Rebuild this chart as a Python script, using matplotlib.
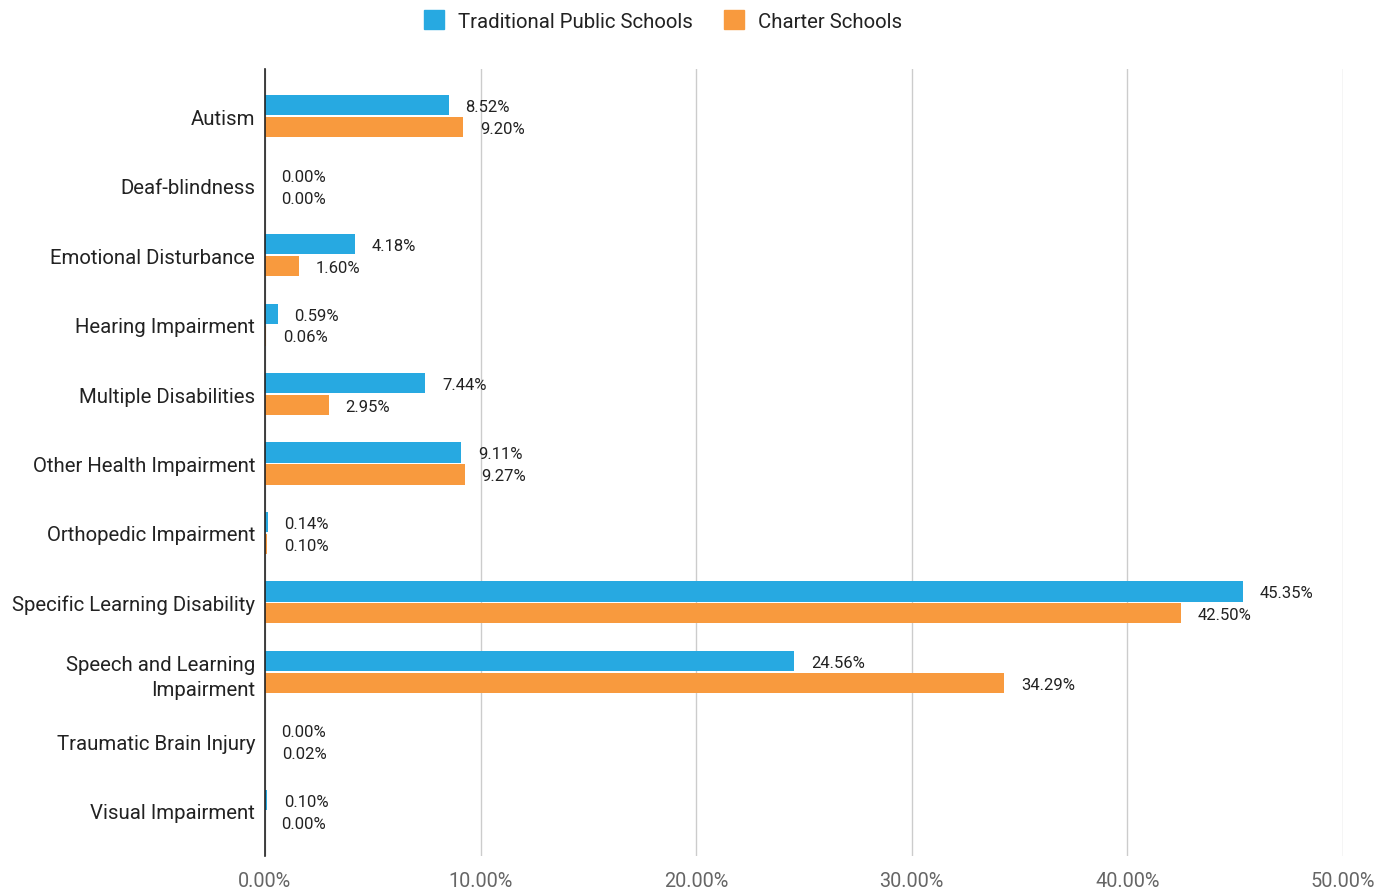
import matplotlib.pyplot as plt
import numpy as np
from matplotlib.patches import Patch

plt.rcParams['font.family'] = ['Roboto', 'DejaVu Sans']

categories = ['Autism', 'Deaf-blindness', 'Emotional Disturbance', 'Hearing Impairment',
              'Multiple Disabilities', 'Other Health Impairment', 'Orthopedic Impairment',
              'Specific Learning Disability', 'Speech and Learning\nImpairment',
              'Traumatic Brain Injury', 'Visual Impairment']
traditional = [8.52, 0.00, 4.18, 0.59, 7.44, 9.11, 0.14, 45.35, 24.56, 0.00, 0.10]
charter = [9.20, 0.00, 1.60, 0.06, 2.95, 9.27, 0.10, 42.50, 34.29, 0.02, 0.00]
xticks = [0, 10, 20, 30, 40, 50]

blue = '#27a9e1'
orange = '#f89a3e'

fig = plt.figure(figsize=(13.9, 8.95), dpi=100)
ax = fig.add_axes([0.1906, 0.0425, 0.7756, 0.8793])

y = np.arange(len(categories))
h = 0.29
off = 0.158
ax.barh(y - off, traditional, height=h, color=blue, zorder=3)
ax.barh(y + off, charter, height=h, color=orange, zorder=3)

for yi, v in zip(y - off, traditional):
    ax.annotate(f'{v:.2f}%', (v, yi), xytext=(12, -1), textcoords='offset points',
                va='center', ha='left', fontsize=12, color='#222222')
for yi, v in zip(y + off, charter):
    ax.annotate(f'{v:.2f}%', (v, yi), xytext=(12, -1), textcoords='offset points',
                va='center', ha='left', fontsize=12, color='#222222')

ax.set_xlim(0, 50)
ax.set_ylim(len(categories) - 0.35, -0.68)
ax.set_yticks(y)
ax.set_yticklabels(categories, fontsize=14.7, color='#222222', ha='right',
                   linespacing=1.4)
ax.set_xticks(xticks)
ax.set_xticklabels([f'{t:.2f}%' for t in xticks], fontsize=14.3, color='#666666')
ax.tick_params(axis='both', length=0)
ax.tick_params(axis='y', pad=7)
ax.tick_params(axis='x', pad=11)

ax.grid(axis='x', color='#cccccc', lw=1, zorder=0)
for s in ['top', 'right', 'bottom']:
    ax.spines[s].set_visible(False)
ax.spines['left'].set_color('#222222')
ax.spines['left'].set_linewidth(1.2)
ax.spines['left'].set_zorder(4)

handles = [Patch(color=blue, label='Traditional Public Schools'),
           Patch(color=orange, label='Charter Schools')]
fig.legend(handles=handles, loc='center', bbox_to_anchor=(0.477, 0.976), ncol=2,
           frameon=False, fontsize=14.7, handlelength=1.0, handleheight=1.0,
           handletextpad=0.7, columnspacing=1.5, labelcolor='#222222')

fig.savefig('out.png', dpi=100)
